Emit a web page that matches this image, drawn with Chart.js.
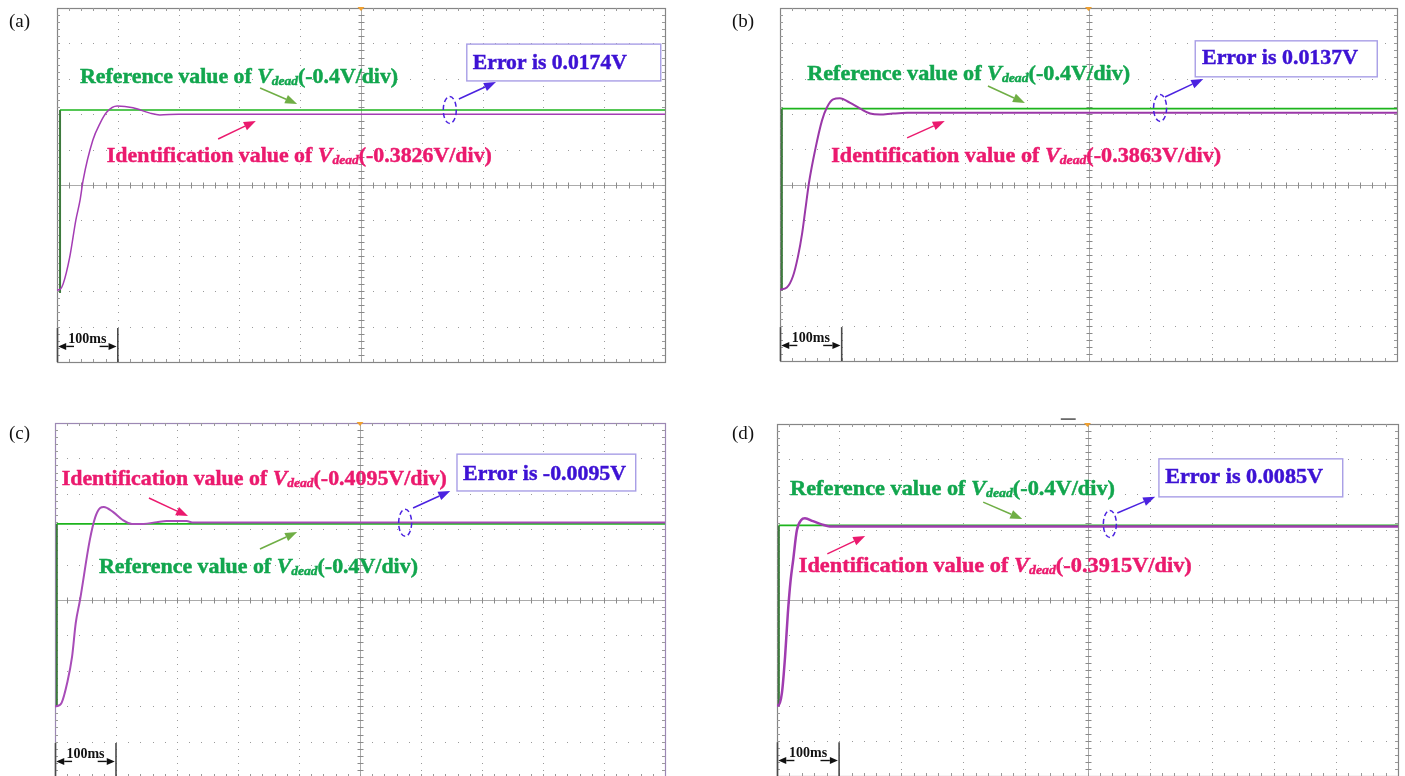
<!DOCTYPE html>
<html><head><meta charset="utf-8">
<script src="https://cdn.jsdelivr.net/npm/chart.js@4.4.1/dist/chart.umd.min.js"></script>
<style>
html,body{margin:0;padding:0;background:#fff;overflow:hidden;width:1405px;height:776px;}
canvas{position:absolute;}
</style></head><body>
<canvas id="ca"></canvas><canvas id="cb"></canvas><canvas id="cc"></canvas><canvas id="cd"></canvas>
<script>
// ---------------- DATA (time in divisions of 100 ms, voltage in divisions) ----------------
const timeA  = [0, 0.05, 0.10, 0.21, 0.31, 0.38, 0.43, 0.59, 0.71, 0.82, 0.99, 1.25, 1.53, 1.69, 2.0, 10];
const identA = [-2.97, -2.95, -2.8, -2.03, -0.99, -0.42, 0.14, 1.27, 1.75, 2.06, 2.23, 2.18, 2.03, 1.98, 2.0, 2.0];
const refTimeA = [0.05, 0.05, 10];
const refA     = [-3.05, 2.12, 2.12];

const timeB  = [0, 0.11, 0.21, 0.29, 0.36, 0.41, 0.47, 0.57, 0.68, 0.76, 0.86, 0.97, 1.13, 1.30, 1.46, 1.62, 1.83, 2.06, 10];
const identB = [-2.98, -2.92, -2.6, -2.05, -1.37, -0.72, 0.05, 0.98, 1.81, 2.18, 2.41, 2.44, 2.32, 2.15, 2.01, 1.98, 2.01, 2.03, 2.03];
const refTimeB = [0.03, 0.03, 10];
const refB     = [-3.0, 2.15, 2.15];

const timeC  = [0, 0.03, 0.11, 0.2, 0.28, 0.34, 0.41, 0.57, 0.66, 0.74, 0.80, 0.95, 1.11, 1.26, 1.45, 1.67, 1.83, 2.16, 2.25, 10];
const identC = [-3.0, -3.0, -2.9, -2.34, -1.6, -0.65, 0.0, 1.69, 2.34, 2.6, 2.63, 2.49, 2.26, 2.15, 2.15, 2.2, 2.23, 2.23, 2.19, 2.19];
const refTimeC = [0.03, 0.03, 10];
const refC     = [-3.0, 2.15, 2.15];

const timeD  = [0, 0.02, 0.08, 0.13, 0.175, 0.22, 0.26, 0.32, 0.39, 0.45, 0.58, 0.72, 0.85, 10];
const identD = [-3.0, -3.0, -2.63, -1.61, -0.37, 0.57, 1.13, 1.98, 2.27, 2.32, 2.24, 2.15, 2.09, 2.09];
const refTimeD = [0.03, 0.03, 10];
const refD     = [-3.0, 2.12, 2.12];

const xTicks = [0,1,2,3,4,5,6,7,8,9,10];
const yTicks = [-5,-4,-3,-2,-1,0,1,2,3,4,5];

const panelLabels = ['(a)', '(b)', '(c)', '(d)'];
const refLabels   = ['-0.4V/div', '-0.4V/div', '-0.4V/div', '-0.4V/div'];
const identLabels = ['-0.3826V/div', '-0.3863V/div', '-0.4095V/div', '-0.3915V/div'];
const errorLabels = ['Error is 0.0174V', 'Error is 0.0137V', 'Error is -0.0095V', 'Error is 0.0085V'];
const timeDivLabel = '100ms';

// ---------------- STYLE / LAYOUT ----------------
const SERIF = '"Liberation Serif","Times New Roman",serif';
const C_GREEN_TXT = '#12a64e', C_PINK = '#eb1a6e', C_BLUE = '#3d12d4';
const C_GREEN_ARW = '#6fae45', C_BLUE_ARW = '#4b22e0', C_BOX = '#a89ee6';

function pts(xs, ys){ return xs.map((x,i)=>({x:x, y:ys[i]})); }

function line(ctx,x1,y1,x2,y2){ ctx.beginPath(); ctx.moveTo(x1,y1); ctx.lineTo(x2,y2); ctx.stroke(); }

function arrow(ctx,x1,y1,x2,y2,color,lw,head,hw){
  ctx.save(); ctx.strokeStyle=color; ctx.fillStyle=color; ctx.lineWidth=lw;
  const a=Math.atan2(y2-y1,x2-x1);
  const bx=x2-head*Math.cos(a), by=y2-head*Math.sin(a);
  line(ctx,x1,y1,bx,by);
  ctx.beginPath(); ctx.moveTo(x2,y2);
  ctx.lineTo(bx+hw/2*Math.sin(a), by-hw/2*Math.cos(a));
  ctx.lineTo(bx-hw/2*Math.sin(a), by+hw/2*Math.cos(a));
  ctx.closePath(); ctx.fill(); ctx.restore();
}

function richText(ctx,pieces,x,y,targetW,color){
  let w=0;
  pieces.forEach(p=>{ctx.font=p.font; p.w=ctx.measureText(p.t).width; w+=p.w;});
  const s = targetW ? targetW/w : 1;
  ctx.save(); ctx.translate(x,y); ctx.scale(s,1); ctx.fillStyle=color; ctx.strokeStyle=color;
  ctx.lineWidth=0.45; ctx.textBaseline='alphabetic';
  let cx=0;
  pieces.forEach(p=>{ctx.font=p.font; ctx.fillText(p.t,cx,p.dy||0); ctx.strokeText(p.t,cx,p.dy||0); cx+=p.w;});
  ctx.restore();
}

function vdeadPieces(prefix, value){
  return [
    {t:prefix, font:'bold 21px '+SERIF},
    {t:'V', font:'italic bold 21px '+SERIF},
    {t:'dead', font:'italic bold 13px '+SERIF, dy:2},
    {t:'('+value+')', font:'bold 21px '+SERIF}
  ];
}

const scopePlugin = {
  id:'scope',
  beforeDatasetsDraw(chart){
    const ctx=chart.ctx, ca=chart.chartArea, x=chart.scales.x, y=chart.scales.y;
    const sp=chart.options.plugins.scope;
    ctx.save();
    // dotted grid
    ctx.fillStyle='#9a9a9a';
    xTicks.forEach(v=>{
      if(v===xTicks[0]||v===xTicks[xTicks.length-1]||v===5) return;
      const px=Math.round(x.getPixelForValue(v));
      for(let k=0;k<=50;k++){ const py=Math.round(y.getPixelForValue(-5+k*0.2)); ctx.fillRect(px,py,1,1); }
    });
    yTicks.forEach(v=>{
      if(v===yTicks[0]||v===yTicks[yTicks.length-1]||v===0) return;
      const py=Math.round(y.getPixelForValue(v));
      for(let k=0;k<=50;k++){ const px=Math.round(x.getPixelForValue(k*0.2)); ctx.fillRect(px,py,1,1); }
    });
    // center cross
    ctx.strokeStyle='#ababab'; ctx.lineWidth=1;
    const cx=Math.round(x.getPixelForValue(5))+0.5, cy=Math.round(y.getPixelForValue(0))+0.5;
    line(ctx,cx,ca.top,cx,ca.bottom); line(ctx,ca.left,cy,ca.right,cy);
    ctx.strokeStyle='#8a8a8a';
    for(let k=0;k<=50;k++){
      const px=Math.round(x.getPixelForValue(k*0.2))+0.5;
      line(ctx,px,cy-3,px,cy+3);
      const py=Math.round(y.getPixelForValue(-5+k*0.2))+0.5;
      line(ctx,cx-3,py,cx+3,py);
    }
    // border with inward ticks
    ctx.strokeStyle=sp.border; ctx.lineWidth=1.2;
    ctx.strokeRect(Math.round(ca.left)+0.5, Math.round(ca.top)+0.5, Math.round(ca.right-ca.left), Math.round(ca.bottom-ca.top));
    ctx.strokeStyle='#9a9a9a'; ctx.lineWidth=1;
    for(let k=1;k<50;k++){
      const px=Math.round(x.getPixelForValue(k*0.2))+0.5;
      line(ctx,px,ca.top,px,ca.top+3); line(ctx,px,ca.bottom-3,px,ca.bottom);
      const py=Math.round(y.getPixelForValue(-5+k*0.2))+0.5;
      line(ctx,ca.left,py,ca.left+3,py); line(ctx,ca.right-3,py,ca.right,py);
    }
    ctx.restore();
  },
  afterDraw(chart){
    const ctx=chart.ctx, ca=chart.chartArea, x=chart.scales.x, y=chart.scales.y;
    const sp=chart.options.plugins.scope;
    const X=v=>x.getPixelForValue(v), Y=v=>y.getPixelForValue(v);
    ctx.save();
    // trigger marker
    ctx.fillStyle='#f0a030';
    const tx=X(5), ty=ca.top;
    ctx.beginPath(); ctx.moveTo(tx-3.5,ty-1); ctx.lineTo(tx+3.5,ty-1); ctx.lineTo(tx,ty+3); ctx.closePath(); ctx.fill();
    // panel label
    ctx.fillStyle='#111'; ctx.font='19px '+SERIF; ctx.textBaseline='alphabetic';
    ctx.fillText(sp.label, sp.labelPos[0], sp.labelPos[1]);
    // 100ms marker
    ctx.strokeStyle='#4a4a4a'; ctx.lineWidth=1.6;
    line(ctx,X(0)+0.5,Y(-4.04),X(0)+0.5,ca.bottom);
    line(ctx,X(1),Y(-4.04),X(1),ca.bottom);
    const ay=Y(-4.56);
    arrow(ctx,X(0.28),ay,X(0.02),ay,'#111',1.4,8,7);
    arrow(ctx,X(0.70),ay,X(0.98),ay,'#111',1.4,8,7);
    ctx.fillStyle='#111'; ctx.font='bold 14px '+SERIF; ctx.textAlign='center';
    ctx.fillText(timeDivLabel, X(0.5), Y(-4.47));
    ctx.textAlign='left';
    // reference text + arrow
    const g=sp.green;
    richText(ctx, vdeadPieces('Reference value of ', sp.refText), X(g.tx), Y(g.ty), g.w, C_GREEN_TXT);
    arrow(ctx, X(g.a[0]),Y(g.a[1]),X(g.a[2]),Y(g.a[3]), C_GREEN_ARW, 1.5, 12, 9);
    const p=sp.pink;
    richText(ctx, vdeadPieces('Identification value of ', sp.identText), X(p.tx), Y(p.ty), p.w, C_PINK);
    arrow(ctx, X(p.a[0]),Y(p.a[1]),X(p.a[2]),Y(p.a[3]), C_PINK, 1.5, 12, 9);
    // error box
    const e=sp.err;
    ctx.strokeStyle=C_BOX; ctx.lineWidth=1.4; ctx.fillStyle='#fff';
    const bx=X(e.box[0]), by=Y(e.box[1]), bw=X(e.box[2])-bx, bh=Y(e.box[3])-by;
    ctx.fillRect(bx,by,bw,bh); ctx.strokeRect(bx,by,bw,bh);
    richText(ctx,[{t:sp.errText, font:'bold 21px '+SERIF}], X(e.tx), Y(e.ty), e.w, C_BLUE);
    // ellipse
    ctx.save(); ctx.strokeStyle=C_BLUE_ARW; ctx.lineWidth=1.5; ctx.setLineDash([5,3]);
    ctx.beginPath(); ctx.ellipse(X(e.ell[0]), Y(e.ell[1]), 6.5, 13.5, 0, 0, Math.PI*2); ctx.stroke(); ctx.restore();
    arrow(ctx, X(e.a[0]),Y(e.a[1]),X(e.a[2]),Y(e.a[3]), C_BLUE_ARW, 1.5, 12, 9);
    if(sp.dash){ ctx.strokeStyle='#222'; ctx.lineWidth=1.2; line(ctx,X(sp.dash[0]),Y(sp.dash[2]),X(sp.dash[1]),Y(sp.dash[2])); }
    ctx.restore();
  }
};

function makeChart(id, box, pad, ident, ref, spec){
  const c=document.getElementById(id);
  c.width=box[2]; c.height=box[3]; c.style.left=box[0]+'px'; c.style.top=box[1]+'px';
  c.style.width=box[2]+'px'; c.style.height=box[3]+'px';
  return new Chart(c,{
    type:'line',
    data:{datasets:[
      {data:ident, borderColor:spec.purple, borderWidth:spec.pw, pointRadius:0, cubicInterpolationMode:'monotone', fill:false},
      {data:ref, borderColor:'#1db41d', borderWidth:1.6, pointRadius:0, tension:0, fill:false,
       segment:{borderColor:ctx=>ctx.p0DataIndex===0?'#3d7a3d':'#1db41d', borderWidth:ctx=>ctx.p0DataIndex===0?2:1.6}}
    ]},
    options:{
      responsive:false, animation:false, devicePixelRatio:1, events:[],
      layout:{padding:pad},
      scales:{
        x:{type:'linear', min:xTicks[0], max:xTicks[xTicks.length-1], display:false},
        y:{type:'linear', min:yTicks[0], max:yTicks[yTicks.length-1], display:false}
      },
      plugins:{legend:{display:false}, tooltip:{enabled:false}, scope:spec}
    },
    plugins:[scopePlugin]
  });
}

makeChart('ca',[0,0,700,390],{left:57,top:8,right:35,bottom:28}, pts(timeA,identA), pts(refTimeA,refA), {
  label:panelLabels[0], labelPos:[9,27], border:'#858585', purple:'#a43cb4', pw:1.5,
  refText:refLabels[0], identText:identLabels[0], errText:errorLabels[0],
  green:{tx:0.38, ty:2.88, w:318, a:[3.34,2.74,3.95,2.29]},
  pink:{tx:0.82, ty:0.65, w:385, a:[2.65,1.30,3.27,1.81]},
  err:{box:[6.74,3.98,9.93,2.94], tx:6.84, ty:3.28, w:154, ell:[6.46,2.12], a:[6.61,2.43,7.22,2.91]}
});
makeChart('cb',[700,0,705,390],{left:80,top:8,right:8,bottom:29}, pts(timeB,identB), pts(refTimeB,refB), {
  label:panelLabels[1], labelPos:[32,27], border:'#858585', purple:'#9a38a8', pw:2,
  refText:refLabels[1], identText:identLabels[1], errText:errorLabels[1],
  green:{tx:0.44, ty:2.96, w:323, a:[3.37,2.79,3.97,2.31]},
  pink:{tx:0.83, ty:0.64, w:390, a:[2.06,1.32,2.67,1.80]},
  err:{box:[6.73,4.07,9.68,3.05], tx:6.84, ty:3.41, w:156, ell:[6.16,2.17], a:[6.24,2.48,6.86,2.99]}
});
makeChart('cc',[0,390,700,400],{left:55,top:33,right:35,bottom:13}, pts(timeC,identC), pts(refTimeC,refC), {
  label:panelLabels[2], labelPos:[9,49], border:'#9c88b4', purple:'#a84cb8', pw:2,
  refText:refLabels[2], identText:identLabels[2], errText:errorLabels[2],
  green:{tx:0.72, ty:0.76, w:319, a:[3.36,1.44,3.97,1.92]},
  pink:{tx:0.11, ty:3.25, w:385, a:[1.54,2.88,2.18,2.37]},
  err:{box:[6.59,4.12,9.52,3.08], tx:6.69, ty:3.39, w:163, ell:[5.74,2.18], a:[5.87,2.60,6.48,3.08]}
});
makeChart('cd',[700,390,705,400],{left:77,top:34,right:7,bottom:14}, pts(timeD,identD), pts(refTimeD,refD), {
  label:panelLabels[3], labelPos:[32,49], border:'#858585', purple:'#a03cb0', pw:2.5,
  refText:refLabels[3], identText:identLabels[3], errText:errorLabels[3],
  green:{tx:0.21, ty:2.98, w:325, a:[3.32,2.78,3.95,2.30]},
  pink:{tx:0.35, ty:0.80, w:393, a:[0.81,1.31,1.42,1.82]},
  err:{box:[6.15,4.01,9.11,2.93], tx:6.25, ty:3.32, w:158, ell:[5.36,2.16], a:[5.48,2.47,6.09,2.93]},
  dash:[4.57,4.81,5.14]
});
</script>
</body></html>
